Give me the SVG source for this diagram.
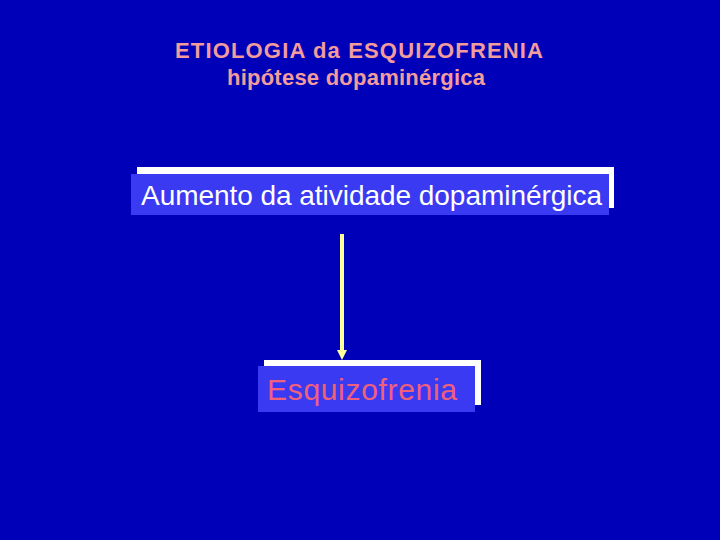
<svg xmlns="http://www.w3.org/2000/svg" width="720" height="540" viewBox="0 0 720 540">
<style>
.title{font-family:"Liberation Sans",Arial,sans-serif;font-weight:bold;font-size:22px;fill:#F29C9C}
.shadow{fill:#FFFFFF}
.box{fill:#3A3AF2}
.lbl{font-family:"Liberation Sans",Arial,sans-serif}
</style>
<rect x="0" y="0" width="720" height="540" fill="#0000B8"/>
<g id="title">
<text class="title" x="175" y="58" textLength="368" lengthAdjust="spacing">ETIOLOGIA da ESQUIZOFRENIA</text>
<text class="title" x="227" y="85" textLength="258" lengthAdjust="spacing">hipótese dopaminérgica</text>
</g>
<g id="connectors">
<line x1="342" y1="234" x2="342" y2="350" stroke="#FFFF99" stroke-width="4"/>
<path d="M337,350 L347,350 L342,360 Z" fill="#FFFF99"/>
</g>
<g id="node-aumento">
<rect class="shadow" x="137" y="167" width="477" height="41"/>
<rect class="box" x="131" y="174" width="478" height="41"/>
<text class="lbl" x="141" y="205" font-size="28" fill="#FFFFFF" textLength="461" lengthAdjust="spacing">Aumento da atividade dopaminérgica</text>
</g>
<g id="node-esquizofrenia">
<rect class="shadow" x="264" y="360" width="217" height="45"/>
<rect class="box" x="258" y="366" width="217" height="46"/>
<text class="lbl" x="267" y="400" font-size="30" fill="#F0607A" textLength="190" lengthAdjust="spacing">Esquizofrenia</text>
</g>
</svg>
